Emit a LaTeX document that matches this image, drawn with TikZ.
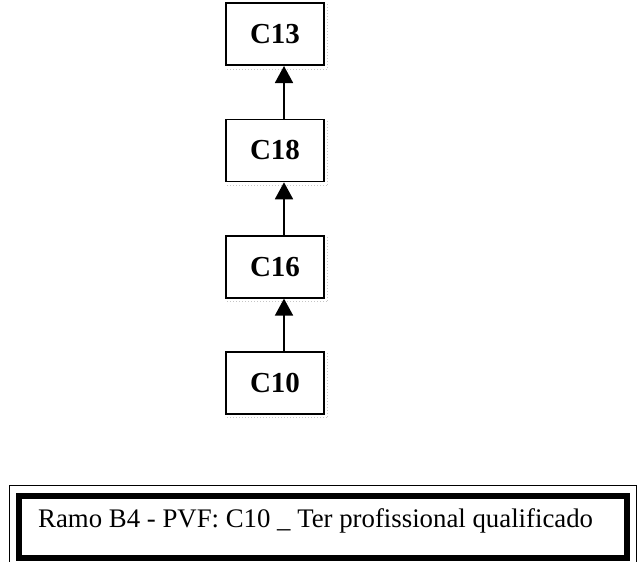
\documentclass[tikz,border=0pt]{standalone}
\usepackage{fontspec}
\setmainfont{Liberation Serif}
\usetikzlibrary{arrows.meta,positioning}

\begin{document}
\begin{tikzpicture}[x=1pt, y=-1pt, node distance=52.5pt,
  box/.style={draw, line width=1.8pt, inner sep=0pt, minimum width=98pt, minimum height=62pt, font=\fontsize{29}{31}\selectfont\bfseries},
  link/.style={line width=1.8pt, -{Triangle[length=17pt,width=18pt]}},
  shade/.style={draw=gray!45, line width=1pt, dotted},
  frame/.style={draw, line width=6pt, minimum width=608pt, minimum height=62pt, inner sep=0pt}]
\useasboundingbox (0,0) rectangle (643,562);
\node[box] (c10) at (275,383) {C10};
\node[box, above=of c10] (c16) {C16};
\node[box, above=of c16] (c18) {C18};
\node[box, above=of c18] (c13) {C13};
% faint shadow on the right and bottom of each box
\foreach \n in {c13,c18,c16,c10}
  \draw[shade] ([shift={(3pt,-2pt)}]\n.north east) -- ([shift={(3pt,-3pt)}]\n.south east) -- ([shift={(2pt,-3pt)}]\n.south west);
\draw[link] ([xshift=9pt]c10.north) -- ([xshift=9pt]c16.south);
\draw[link] ([xshift=9pt]c16.north) -- ([xshift=9pt]c18.south);
\draw[link] ([xshift=9pt]c18.north) -- ([xshift=9pt]c13.south);
% caption frame
\node[frame] (legend) at (323,527) {};
\draw[line width=1pt] ([shift={(-7pt,8pt)}]legend.north west) rectangle ([shift={(6pt,-9pt)}]legend.south east);
\node[anchor=base west, inner sep=0pt, font=\fontsize{26.8}{28}\selectfont] (caption) at (38,527) {Ramo B4 - PVF: C10 \_ Ter profissional qualificado};
\end{tikzpicture}
\end{document}
